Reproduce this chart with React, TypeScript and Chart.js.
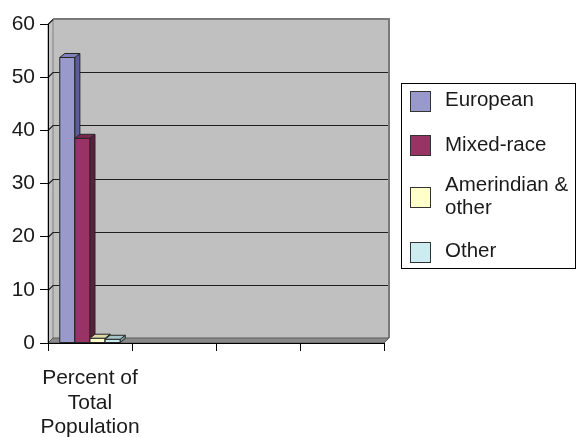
import React, { useEffect, useRef } from 'react';
import { Chart, registerables } from 'chart.js';

Chart.register(...registerables);

// ---- data ----
const categories: (string | string[])[] = [['Percent of', 'Total', 'Population'], '', '', ''];
const seriesNames = ['European', 'Mixed-race', 'Amerindian & other', 'Other'];
const european = [53.7];
const mixedRace = [38.5];
const amerindian = [0.9];
const other = [0.7];
const yTicks = [0, 10, 20, 30, 40, 50, 60];

// ---- styles ----
const frontColors = ['#9999cc', '#993366', '#ffffcc', '#ccecf2'];
const sideColors = ['#5c5c99', '#5a1f3d', '#b5b38c', '#7f9ea3'];
const topColors = ['#8080bb', '#7a2850', '#dcdba8', '#a6c4c8'];
const FONT = '"Liberation Sans", Arial, Helvetica, sans-serif';
const DX = 5;
const DY = -5;
const BDX = 5;
const BDY = -4;

const wallsPlugin = {
  id: 'walls3d',
  beforeDraw(chart: any) {
    const { ctx, chartArea: a } = chart;
    const y = chart.scales.y;
    ctx.save();
    ctx.fillStyle = '#c0c0c0';
    ctx.fillRect(a.left + DX, a.top + DY, a.right - a.left, a.bottom - a.top);
    ctx.beginPath();
    ctx.moveTo(a.left, a.top);
    ctx.lineTo(a.left + DX, a.top + DY);
    ctx.lineTo(a.left + DX, a.bottom + DY);
    ctx.lineTo(a.left, a.bottom);
    ctx.closePath();
    ctx.fillStyle = '#c4c4c4';
    ctx.fill();
    ctx.strokeStyle = '#808080';
    ctx.lineWidth = 1;
    ctx.stroke();
    ctx.strokeStyle = '#1e1e1e';
    ctx.lineWidth = 1.2;
    y.ticks.forEach((t: any) => {
      if (t.value === yTicks[0]) return;
      const py = Math.round(y.getPixelForValue(t.value)) + 0.5;
      ctx.beginPath();
      ctx.moveTo(a.left, py);
      ctx.lineTo(a.left + DX, py + DY);
      ctx.lineTo(a.right + DX, py + DY);
      ctx.stroke();
    });
    ctx.strokeStyle = '#7a7a7a';
    ctx.lineWidth = 2;
    ctx.beginPath();
    ctx.moveTo(a.left + DX, a.top + DY);
    ctx.lineTo(a.right + DX, a.top + DY);
    ctx.lineTo(a.right + DX, a.bottom + DY);
    ctx.stroke();
    ctx.beginPath();
    ctx.moveTo(a.left, a.bottom);
    ctx.lineTo(a.left + DX, a.bottom + DY);
    ctx.lineTo(a.right + DX, a.bottom + DY);
    ctx.lineTo(a.right, a.bottom);
    ctx.closePath();
    ctx.fillStyle = '#8a8a8a';
    ctx.fill();
    ctx.strokeStyle = '#5a5a5a';
    ctx.lineWidth = 1;
    ctx.stroke();
    ctx.restore();
  },
};

const bars3dPlugin = {
  id: 'bars3d',
  afterDatasetsDraw(chart: any) {
    const ctx = chart.ctx;
    ctx.save();
    ctx.lineWidth = 1;
    ctx.strokeStyle = '#262626';
    chart.data.datasets.forEach((ds: any, di: number) => {
      const meta = chart.getDatasetMeta(di);
      meta.data.forEach((el: any) => {
        const { x, y, base, width } = el.getProps(['x', 'y', 'base', 'width'], true);
        if (!isFinite(y)) return;
        const l = x - width / 2;
        const r = x + width / 2;
        ctx.fillStyle = frontColors[di];
        ctx.beginPath();
        ctx.rect(l, y, r - l, base - y);
        ctx.fill();
        ctx.stroke();
        ctx.fillStyle = sideColors[di];
        ctx.beginPath();
        ctx.moveTo(r, y);
        ctx.lineTo(r + BDX, y + BDY);
        ctx.lineTo(r + BDX, base + BDY);
        ctx.lineTo(r, base);
        ctx.closePath();
        ctx.fill();
        ctx.stroke();
        ctx.fillStyle = topColors[di];
        ctx.beginPath();
        ctx.moveTo(l, y);
        ctx.lineTo(l + BDX, y + BDY);
        ctx.lineTo(r + BDX, y + BDY);
        ctx.lineTo(r, y);
        ctx.closePath();
        ctx.fill();
        ctx.stroke();
      });
    });
    ctx.restore();
  },
};

function wrapText(ctx: CanvasRenderingContext2D, text: string, maxW: number): string[] {
  const words = text.split(' ');
  const lines: string[] = [];
  let cur = '';
  words.forEach((w) => {
    const test = cur ? cur + ' ' + w : w;
    if (ctx.measureText(test).width > maxW && cur) {
      lines.push(cur);
      cur = w;
    } else {
      cur = test;
    }
  });
  if (cur) lines.push(cur);
  return lines;
}

const boxLegendPlugin = {
  id: 'boxLegend',
  afterDraw(chart: any) {
    const ctx = chart.ctx;
    const box = { left: 401, top: 83, right: 576, bottom: 269 };
    const lineH = 23;
    const textX = 445;
    const pad = 6;
    ctx.save();
    ctx.font = '20.5px ' + FONT;
    const items = chart.data.datasets.map((ds: any, i: number) => ({
      lines: wrapText(ctx, ds.label, 140),
      color: frontColors[i],
    }));
    const totalLines = items.reduce((s: number, it: any) => s + it.lines.length, 0);
    const gap = (box.bottom - box.top - 2 * pad - totalLines * lineH) / (items.length - 1);
    ctx.fillStyle = '#ffffff';
    ctx.fillRect(box.left, box.top, box.right - box.left, box.bottom - box.top);
    ctx.strokeStyle = '#000000';
    ctx.lineWidth = 1;
    ctx.strokeRect(box.left + 0.5, box.top + 0.5, box.right - box.left - 1, box.bottom - box.top - 1);
    let yy = box.top + pad;
    items.forEach((it: any, idx: number) => {
      const h = it.lines.length * lineH;
      const c = yy + h / 2 + (idx === 1 ? 2 : 0);
      ctx.fillStyle = it.color;
      ctx.fillRect(410, Math.round(c - 10), 20, 20);
      ctx.strokeStyle = '#333333';
      ctx.strokeRect(410.5, Math.round(c - 10) + 0.5, 20, 20);
      ctx.fillStyle = '#1a1a1a';
      ctx.textBaseline = 'middle';
      ctx.textAlign = 'left';
      it.lines.forEach((ln: string, k: number) => {
        ctx.fillText(ln, textX, c - h / 2 + lineH * (k + 0.5));
      });
      yy += h + gap;
    });
    ctx.restore();
  },
};

export default function App() {
  const ref = useRef<HTMLCanvasElement | null>(null);
  useEffect(() => {
    if (!ref.current) return;
    const seriesValues = [european, mixedRace, amerindian, other];
    const chart = new Chart(ref.current, {
      type: 'bar',
      data: {
        labels: categories as any,
        datasets: seriesNames.map((name, i) => ({
          label: name,
          data: seriesValues[i],
          backgroundColor: frontColors[i],
          borderWidth: 0,
          categoryPercentage: 0.72,
          barPercentage: 1,
        })),
      },
      options: {
        animation: false,
        responsive: false,
        layout: { padding: { top: 24, right: 192, left: 0, bottom: 0 } },
        plugins: { legend: { display: false }, tooltip: { enabled: false } },
        scales: {
          x: {
            offset: true,
            grid: { offset: true, drawOnChartArea: false, tickLength: 8, color: '#000000' },
            border: { display: true, color: '#000000' },
            ticks: {
              color: '#1a1a1a',
              font: { family: FONT, size: 21, lineHeight: 1.17 },
              padding: 15,
              maxRotation: 0,
              autoSkip: false,
            },
            afterFit: (s: any) => {
              s.height = 94;
            },
          },
          y: {
            min: yTicks[0],
            max: yTicks[yTicks.length - 1],
            grid: { drawOnChartArea: false, tickLength: 8, color: '#000000' },
            border: { display: true, color: '#000000' },
            ticks: {
              stepSize: yTicks[1] - yTicks[0],
              color: '#1a1a1a',
              font: { family: FONT, size: 21 },
              padding: 5,
            },
            afterFit: (s: any) => {
              s.width = 48;
            },
          },
        },
      },
      plugins: [wallsPlugin, bars3dPlugin, boxLegendPlugin],
    });
    return () => chart.destroy();
  }, []);
  return (
    <div style={{ position: 'absolute', left: 0, top: 0, width: 576, height: 437, background: '#ffffff' }}>
      <canvas ref={ref} width={576} height={437} style={{ display: 'block' }} />
    </div>
  );
}
